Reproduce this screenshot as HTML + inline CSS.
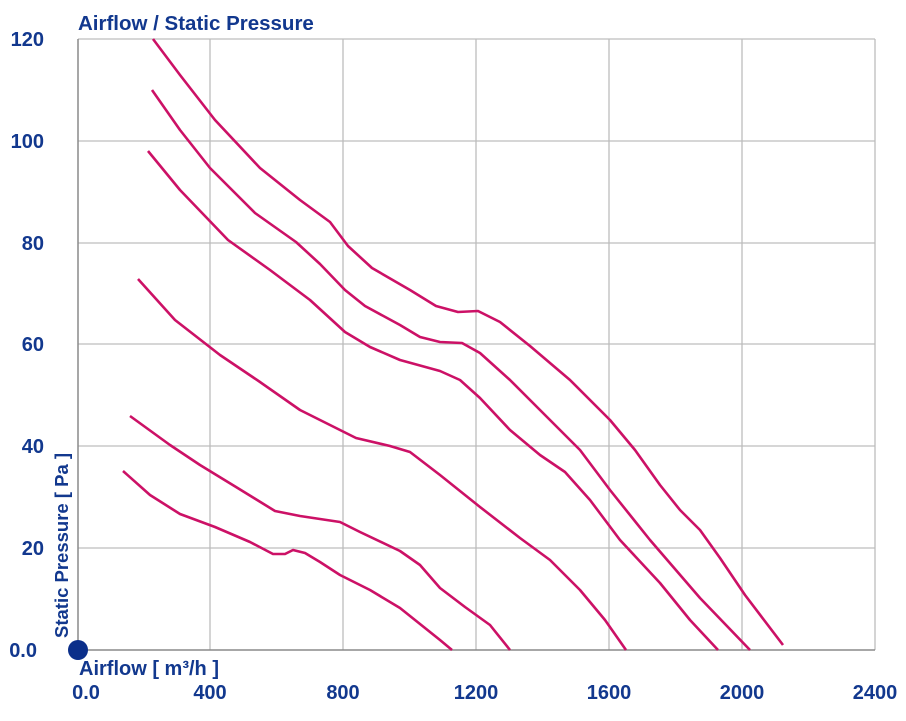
<!DOCTYPE html>
<html><head><meta charset="utf-8"><style>
html,body{margin:0;padding:0;background:#fff;width:906px;height:721px;overflow:hidden}
svg text{font-family:"Liberation Sans",Arial,sans-serif;fill:#12388e;font-weight:bold}
</style></head><body>
<svg width="906" height="721" viewBox="0 0 906 721" xmlns="http://www.w3.org/2000/svg">
<g stroke="#bdbdbd" stroke-width="1.3" fill="none">
<line x1="210" y1="39" x2="210" y2="650"/><line x1="343" y1="39" x2="343" y2="650"/>
<line x1="476" y1="39" x2="476" y2="650"/><line x1="609" y1="39" x2="609" y2="650"/>
<line x1="742" y1="39" x2="742" y2="650"/><line x1="875" y1="39" x2="875" y2="650"/>
<line x1="78" y1="39" x2="875" y2="39"/><line x1="78" y1="141" x2="875" y2="141"/>
<line x1="78" y1="243" x2="875" y2="243"/><line x1="78" y1="344" x2="875" y2="344"/>
<line x1="78" y1="446" x2="875" y2="446"/><line x1="78" y1="548" x2="875" y2="548"/>
</g>
<g stroke="#8a8a8a" stroke-width="1.5"><line x1="78" y1="39" x2="78" y2="650"/><line x1="78" y1="650" x2="875" y2="650"/></g>
<g stroke="#cc1166" stroke-width="2.6" fill="none" stroke-linejoin="round">
<polyline points="153,39 180,75 215,120 260,168 300,200 330,222 348,246 372,268 410,290 436,306 458,312 478,311 500,322 530,346 570,380 610,420 635,450 660,485 680,510 700,530 720,558 745,595 783,645"/>
<polyline points="152,90 180,130 210,168 255,213 296,242 320,264 345,290 365,306 400,325 420,337 440,342 462,343 480,353 510,380 540,410 580,450 610,490 650,540 700,598 750,650"/>
<polyline points="148,151 180,190 228,240 270,270 310,300 345,332 370,347 400,360 440,371 460,380 480,398 510,430 540,455 565,472 590,500 620,540 660,583 690,620 718,650"/>
<polyline points="138,279 175,320 220,355 260,382 300,410 340,430 356,438 390,446 410,452 440,475 480,507 520,538 550,560 580,590 605,620 626,650"/>
<polyline points="130,416 170,445 200,465 236,487 275,511 300,516 340,522 360,532 400,551 420,565 440,588 465,607 490,625 510,650"/>
<polyline points="123,471 150,495 180,514 215,527 250,542 273,554 285,554 293,550 305,553 320,562 340,575 370,590 400,608 420,624 440,640 452,650"/>
</g>
<circle cx="78" cy="650" r="10" fill="#0b2f8a"/>
<text x="78" y="30" font-size="20.5">Airflow / Static Pressure</text>
<g font-size="20" text-anchor="end">
<text x="44" y="46">120</text><text x="44" y="148">100</text><text x="44" y="250">80</text>
<text x="44" y="351">60</text><text x="44" y="453">40</text><text x="44" y="555">20</text><text x="37" y="657">0.0</text>
</g>
<g font-size="20" text-anchor="middle">
<text x="86" y="699">0.0</text><text x="210" y="699">400</text><text x="343" y="699">800</text>
<text x="476" y="699">1200</text><text x="609" y="699">1600</text><text x="742" y="699">2000</text><text x="875" y="699">2400</text>
</g>
<text x="79" y="675" font-size="20">Airflow [ m³/h ]</text>
<text transform="translate(68,638) rotate(-90)" font-size="18.5">Static Pressure [ Pa ]</text>
</svg>
</body></html>
